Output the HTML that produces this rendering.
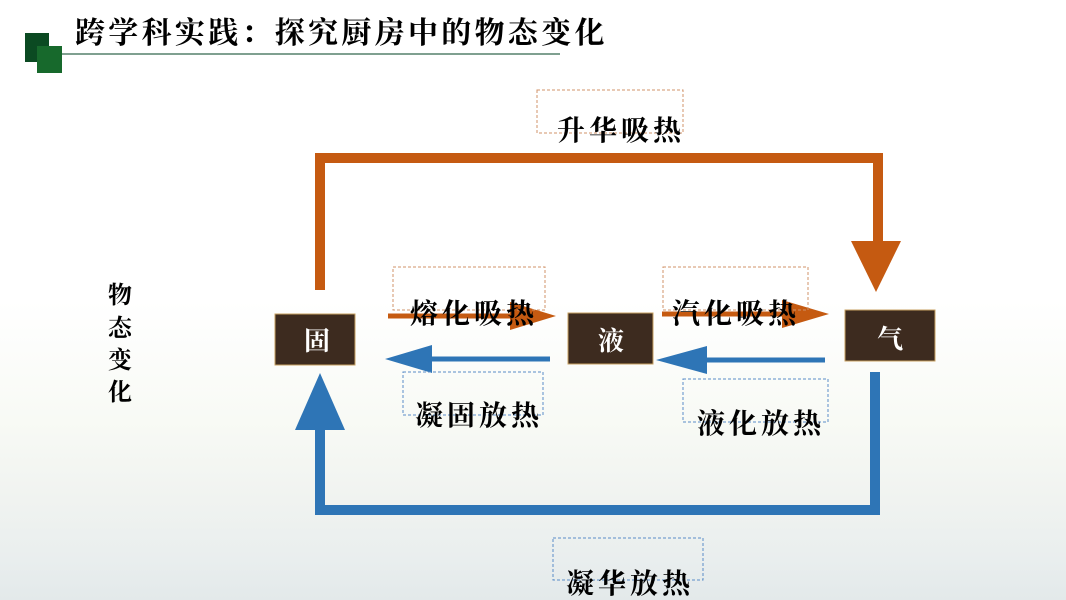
<!DOCTYPE html>
<html><head><meta charset="utf-8"><style>
html,body{margin:0;padding:0}
body{width:1066px;height:600px;overflow:hidden;background:linear-gradient(to bottom,#ffffff 0,#ffffff 300px,#f8faf5 420px,#f0f3f0 500px,#e9eeee 560px,#e3e9ea 600px);}
svg{display:block}
text{font-family:"Liberation Serif","Noto Serif CJK SC",serif;font-weight:bold;}
</style></head><body>
<svg width="1066" height="600" viewBox="0 0 1066 600">
<rect x="25" y="33" width="24" height="29" fill="#0b4a22"/>
<rect x="37" y="46" width="25" height="27" fill="#17692c"/>
<text x="75" y="43" font-size="30" fill="#000" letter-spacing="3.3">跨学科实践：探究厨房中的物态变化</text>
<line x1="62" y1="54" x2="560" y2="54" stroke="#7fa090" stroke-width="2"/>

<text font-size="24" fill="#000"><tspan x="108" y="303">物</tspan><tspan x="108" y="336">态</tspan><tspan x="108" y="368">变</tspan><tspan x="108" y="400">化</tspan></text>

<polyline points="320,290 320,158 878,158 878,242" fill="none" stroke="#c55a11" stroke-width="10"/>
<polygon points="851,241 901,241 876,292" fill="#c55a11"/>
<polyline points="875,372 875,510 320,510 320,428" fill="none" stroke="#2e75b6" stroke-width="10"/>
<polygon points="295,430 345,430 320,373" fill="#2e75b6"/>

<rect x="275" y="314" width="80" height="51" fill="#3d2b1f" stroke="#c8a060" stroke-width="1"/>
<rect x="568" y="313" width="85" height="51" fill="#3d2b1f" stroke="#c8a060" stroke-width="1"/>
<rect x="845" y="310" width="90" height="51" fill="#3d2b1f" stroke="#c8a060" stroke-width="1"/>
<text x="304" y="350" font-size="26" fill="#fff">固</text>
<text x="598" y="350" font-size="26" fill="#fff">液</text>
<text x="877" y="348" font-size="26" fill="#fff">气</text>

<line x1="388" y1="316" x2="512" y2="316" stroke="#c55a11" stroke-width="5"/>
<polygon points="510,302 556,316 510,330" fill="#c55a11"/>
<line x1="662" y1="314" x2="784" y2="314" stroke="#c55a11" stroke-width="5"/>
<polygon points="782,300 829,314 782,328" fill="#c55a11"/>
<line x1="430" y1="359" x2="550" y2="359" stroke="#2e75b6" stroke-width="5"/>
<polygon points="432,345 385,359 432,373" fill="#2e75b6"/>
<line x1="704" y1="360" x2="825" y2="360" stroke="#2e75b6" stroke-width="5"/>
<polygon points="707,346 656,360 707,374" fill="#2e75b6"/>

<g fill="none" stroke-width="1" stroke-dasharray="3,2">
<rect x="537" y="90" width="146" height="43" stroke="#d0936a"/>
<rect x="393" y="267" width="152" height="43" stroke="#d0936a"/>
<rect x="663" y="267" width="145" height="43" stroke="#d0936a"/>
<rect x="403" y="372" width="140" height="43" stroke="#5a8cc8"/>
<rect x="683" y="379" width="145" height="43" stroke="#5a8cc8"/>
<rect x="553" y="538" width="150" height="42" stroke="#5a8cc8"/>
</g>
<g font-size="28" fill="#000" letter-spacing="4">
<text x="557" y="140">升华吸热</text>
<text x="410" y="323">熔化吸热</text>
<text x="672" y="323">汽化吸热</text>
<text x="415" y="425">凝固放热</text>
<text x="697" y="433">液化放热</text>
<text x="566" y="593">凝华放热</text>
</g>
</svg>
</body></html>
